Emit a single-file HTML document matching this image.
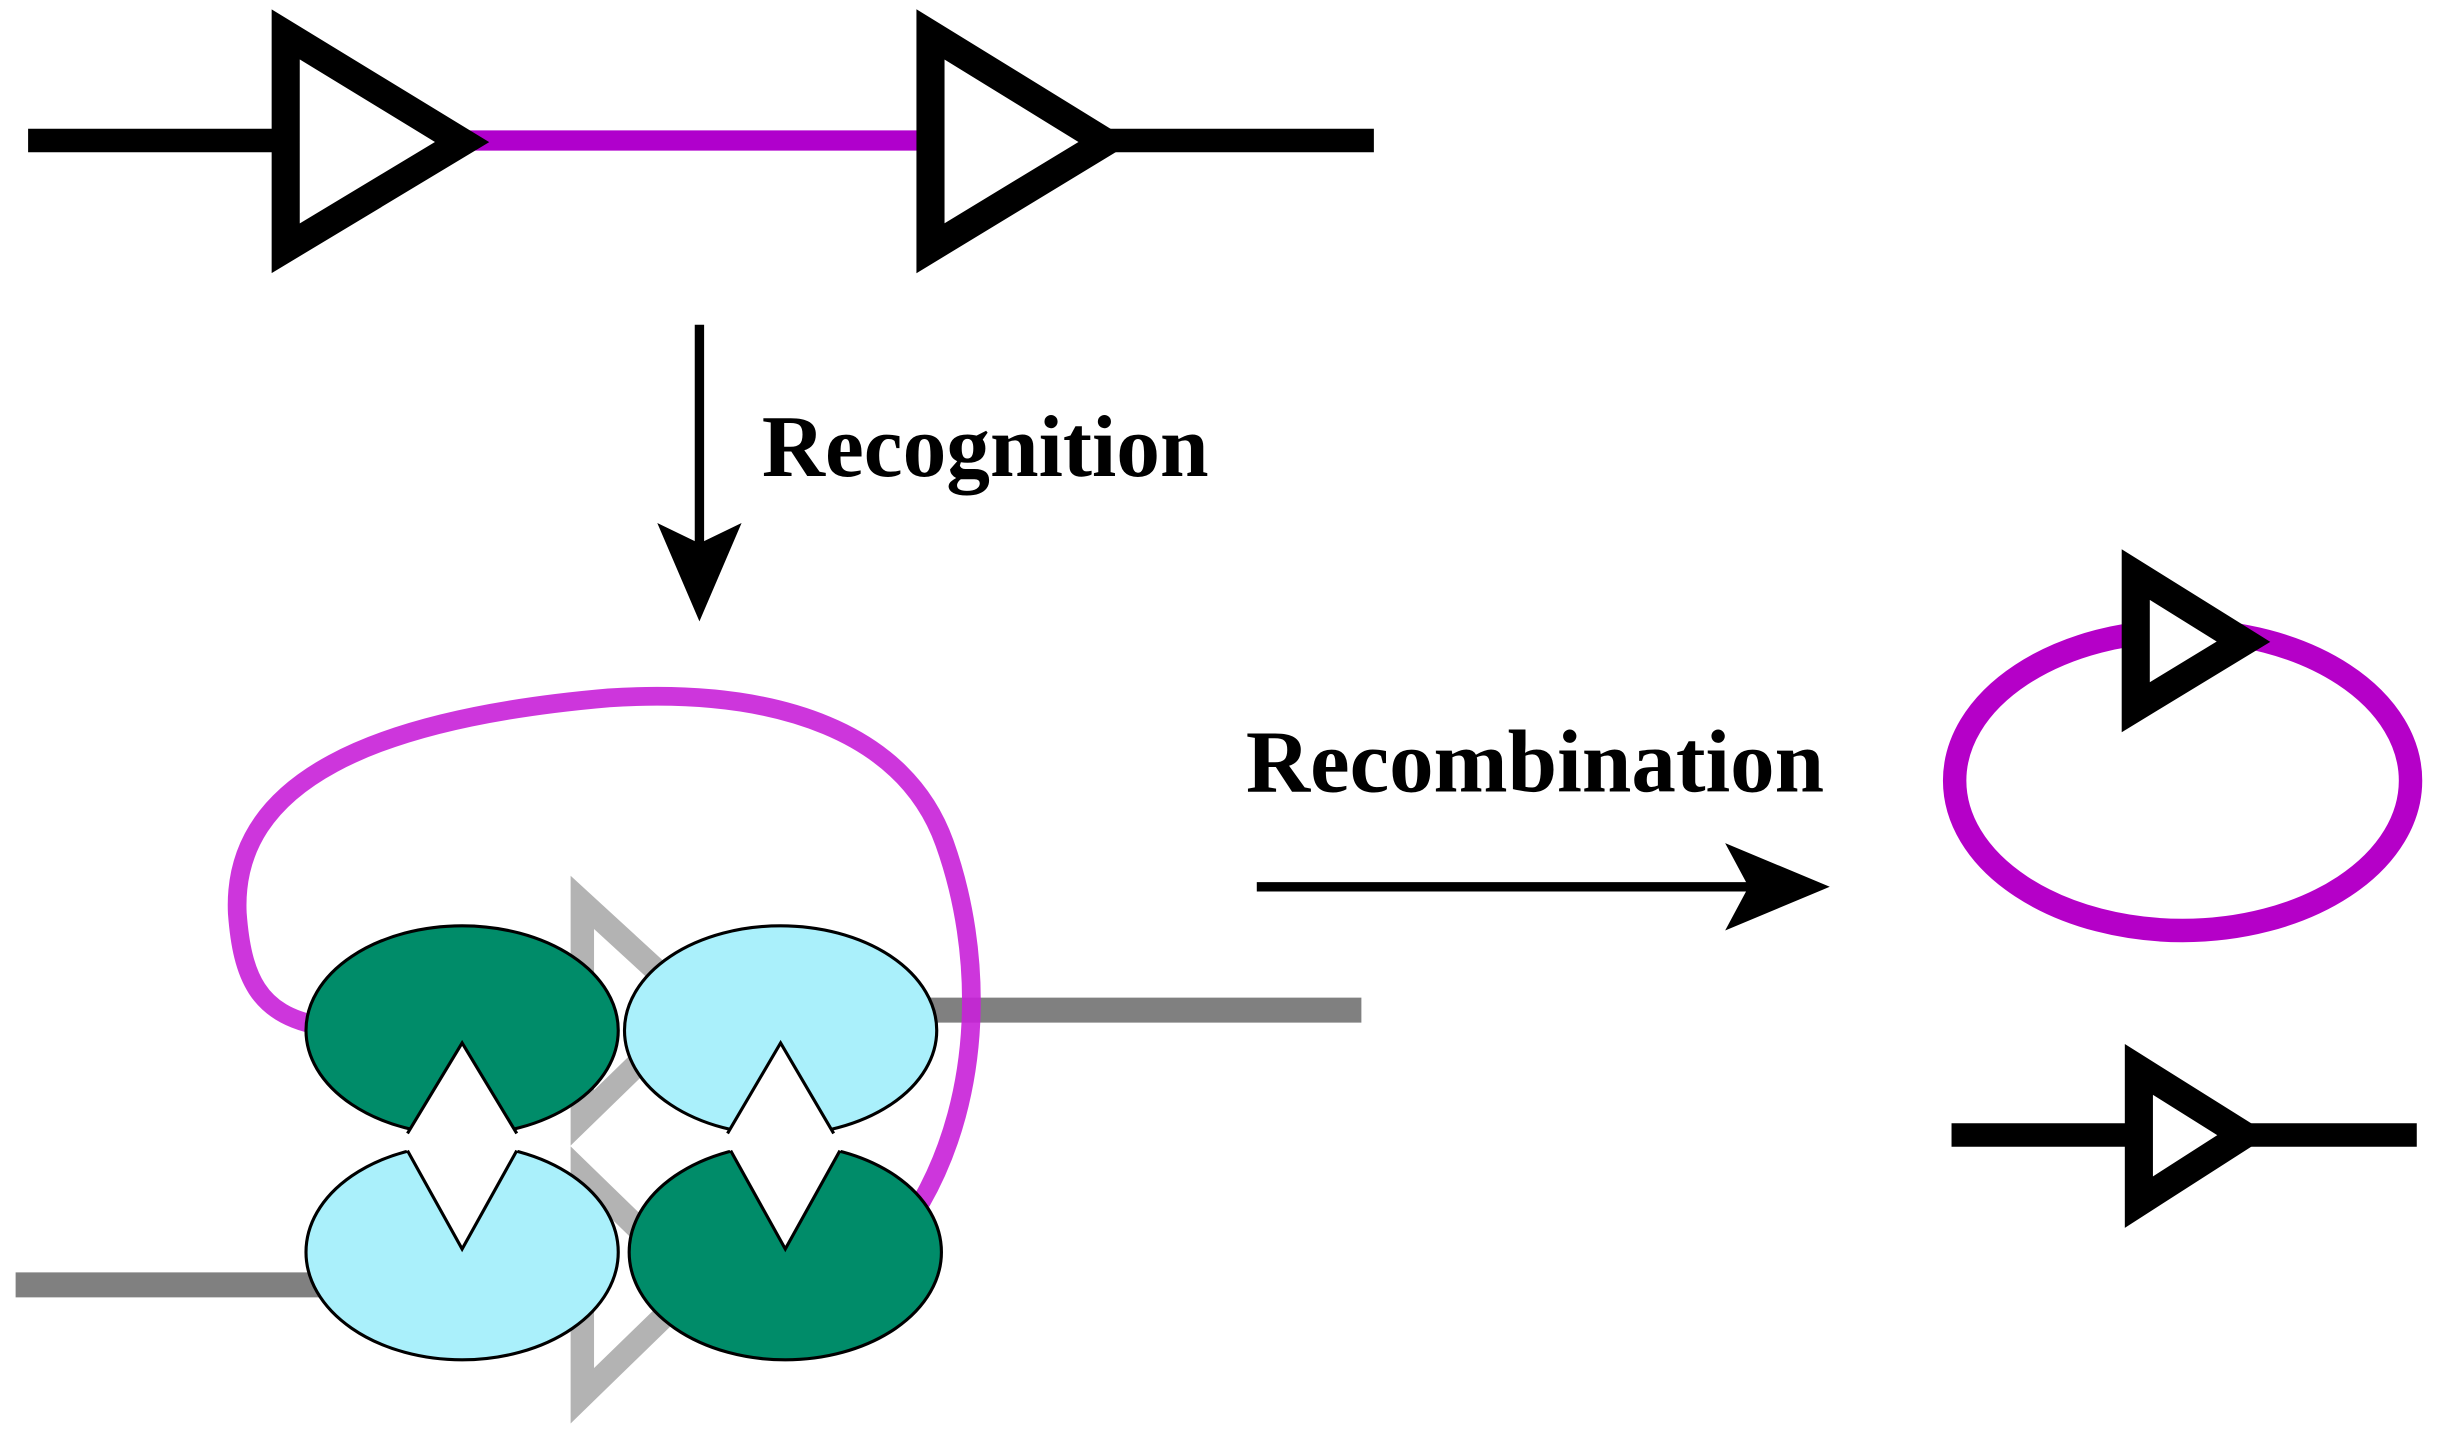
<!DOCTYPE html>
<html><head><style>
html,body{margin:0;padding:0;background:#fff;}
svg{display:block;}
</style></head><body>
<svg width="2448" height="1439" viewBox="0 0 1568 921.7" xmlns="http://www.w3.org/2000/svg">
<rect width="1568" height="922" fill="#fff"/>
<!-- top construct -->
<line x1="18" y1="90" x2="185" y2="90" stroke="#000" stroke-width="15"/>
<line x1="300" y1="90" x2="588" y2="90" stroke="#b000cc" stroke-width="13"/>
<line x1="705" y1="90" x2="880" y2="90" stroke="#000" stroke-width="15"/>
<polygon points="183,22 183,159 296,91" fill="#fff" stroke="#000" stroke-width="18"/>
<polygon points="596,22 596,159 708,91" fill="#fff" stroke="#000" stroke-width="18"/>
<!-- down arrow -->
<line x1="448" y1="208" x2="448" y2="350" stroke="#000" stroke-width="6"/>
<polygon points="421,335 448,398 475,335 448,348" fill="#000"/>
<text x="488" y="305" font-family="Liberation Serif, serif" font-weight="bold" font-size="56" fill="#000">Recognition</text>
<!-- recombination arrow -->
<text x="798" y="507" font-family="Liberation Serif, serif" font-weight="bold" font-size="57" fill="#000">Recombination</text>
<line x1="805" y1="568" x2="1130" y2="568" stroke="#000" stroke-width="6"/>
<polygon points="1105,540 1172,568 1105,596 1120,568" fill="#000"/>
<!-- product circle -->
<ellipse cx="1398" cy="500" rx="146" ry="96" fill="none" stroke="#b500c8" stroke-width="15"/>
<polygon points="1368,368 1368,453 1437,411" fill="#fff" stroke="#000" stroke-width="18"/>
<!-- product line -->
<line x1="1250" y1="727" x2="1548" y2="727" stroke="#000" stroke-width="15"/>
<polygon points="1370,685 1370,770 1437,727" fill="#fff" stroke="#000" stroke-width="18"/>
<!-- complex -->
<polygon points="373,578 373,716 446,645" fill="none" stroke="#b3b3b3" stroke-width="15"/>
<polygon points="373,752 373,894 446,823" fill="none" stroke="#b3b3b3" stroke-width="15"/>
<line x1="10" y1="823" x2="205" y2="823" stroke="#808080" stroke-width="16"/>
<line x1="595" y1="647" x2="872" y2="647" stroke="#808080" stroke-width="16"/>
<path d="M205,657 C165,650 155,625 152,585 C148,500 240,460 390,447 C500,440 580,470 605,540 C630,610 630,700 590,770" fill="none" stroke="#c820d8" stroke-opacity="0.9" stroke-width="12"/>
<ellipse cx="296" cy="660" rx="100" ry="67" fill="#008c69" stroke="#000" stroke-width="2"/>
<ellipse cx="500" cy="660" rx="100" ry="67" fill="#aaf0fb" stroke="#000" stroke-width="2"/>
<ellipse cx="296" cy="802" rx="100" ry="69" fill="#aaf0fb" stroke="#000" stroke-width="2"/>
<ellipse cx="503" cy="802" rx="100" ry="69" fill="#008c69" stroke="#000" stroke-width="2"/>
<!-- notches -->
<polygon points="256,733 296,668 336,733" fill="#fff"/>
<polyline points="261,726 296,668 331,726" fill="none" stroke="#000" stroke-width="2"/>
<polygon points="461,733 500,668 539,733" fill="#fff"/>
<polyline points="466,726 500,668 534,726" fill="none" stroke="#000" stroke-width="2"/>
<polygon points="256,729 296,800 336,729" fill="#fff"/>
<polyline points="261,737 296,800 331,737" fill="none" stroke="#000" stroke-width="2"/>
<polygon points="463,729 503,800 543,729" fill="#fff"/>
<polyline points="468,737 503,800 538,737" fill="none" stroke="#000" stroke-width="2"/>
</svg>
</body></html>
